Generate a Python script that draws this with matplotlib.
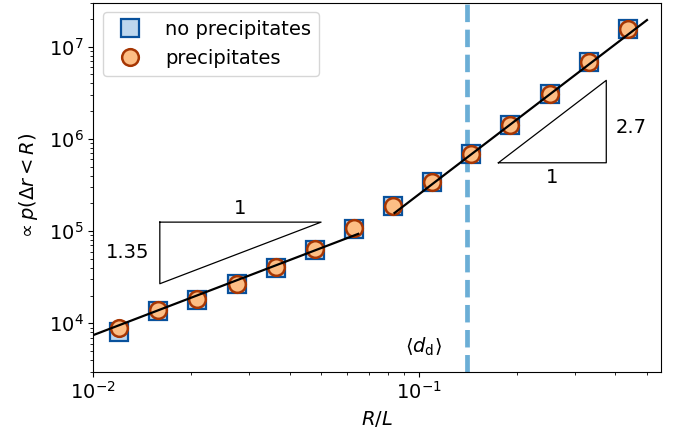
import numpy as np
import matplotlib
matplotlib.use("Agg")
import matplotlib.pyplot as plt

plt.rcParams['font.size'] = 14
plt.rcParams['font.family'] = ['DejaVu Sans']
plt.rcParams['mathtext.fontset'] = 'dejavusans'

# ---- data ----
x_vals = [0.01199, 0.01582, 0.02085, 0.02755, 0.03630, 0.04793, 0.06316,
          0.08303, 0.1094, 0.1444, 0.1903, 0.2513, 0.3320, 0.4364]
y_no_prec = [7960, 13500, 17700, 26800, 40000, 62900, 104500,
             185000, 344000, 678000, 1.41e6, 3.09e6, 6.89e6, 1.55e7]
y_prec = [8790, 13800, 18200, 26800, 40700, 64100, 107000,
          188000, 344000, 678000, 1.41e6, 3.09e6, 6.89e6, 1.55e7]

# power-law fits
low_exp, low_pref, low_range = 1.35, 3.734e6, (0.01, 0.065)
high_exp, high_pref, high_range = 2.7, 1.261e8, (0.084, 0.5)

d_mean = 0.1404

# slope triangles
tri_low_x = (0.016, 0.05)
tri_low_ytop = 1.25e5
tri_high_x = (0.175, 0.375)
tri_high_ybot = 5.5e5

legend_labels = ['no precipitates', 'precipitates']

# ---- figure ----
fig = plt.figure(figsize=(6.81, 4.32), dpi=100)
ax = fig.add_axes([0.137, 0.140, 0.834, 0.854])
ax.set_xscale('log')
ax.set_yscale('log')

ax.axvline(d_mean, color='#6baed6', lw=3.4, ls='--', zorder=1)

ax.plot(x_vals, y_no_prec, 's', ms=13.5, mfc='#bdd7ee', mec='#08519c', mew=1.6,
        label=legend_labels[0], zorder=2)
ax.plot(x_vals, y_prec, 'o', ms=12, mfc='#fdbe85', mec='#a63603', mew=1.8,
        label=legend_labels[1], zorder=3)

xl = np.geomspace(*low_range, 50)
ax.plot(xl, low_pref * xl ** low_exp, color='black', lw=1.6, zorder=4)
xh = np.geomspace(*high_range, 50)
ax.plot(xh, high_pref * xh ** high_exp, color='black', lw=1.6, zorder=4)

# low slope triangle
x0, x1 = tri_low_x
ytop = tri_low_ytop
ybot = ytop * (x0 / x1) ** low_exp
ax.plot([x0, x1, x0, x0], [ytop, ytop, ybot, ytop], color='black', lw=0.9)
ax.text(np.sqrt(x0 * x1), ytop * 1.12, '1', ha='center', va='bottom')
ax.text(x0 * 0.93, np.sqrt(ytop * ybot), '1.35', ha='right', va='center')

# high slope triangle
x0, x1 = tri_high_x
ybot = tri_high_ybot
ytop = ybot * (x1 / x0) ** high_exp
ax.plot([x0, x1, x1, x0], [ybot, ybot, ytop, ybot], color='black', lw=0.9)
ax.text(np.sqrt(x0 * x1), ybot * 0.88, '1', ha='center', va='top')
ax.text(x1 * 1.07, np.sqrt(ytop * ybot) * 0.86, '2.7', ha='left', va='center')

ax.text(0.1031, 5580, r'$\langle d_\mathrm{d}\rangle$', ha='center', va='center')

ax.set_xlim(0.01, 0.553)
ax.set_ylim(3e3, 3e7)
ax.set_xlabel(r'$R/L$')
ax.set_ylabel(r'$\propto p(\Delta r < R)$', labelpad=6)
ax.legend(loc='upper left')

fig.savefig('out.png', dpi=100)
